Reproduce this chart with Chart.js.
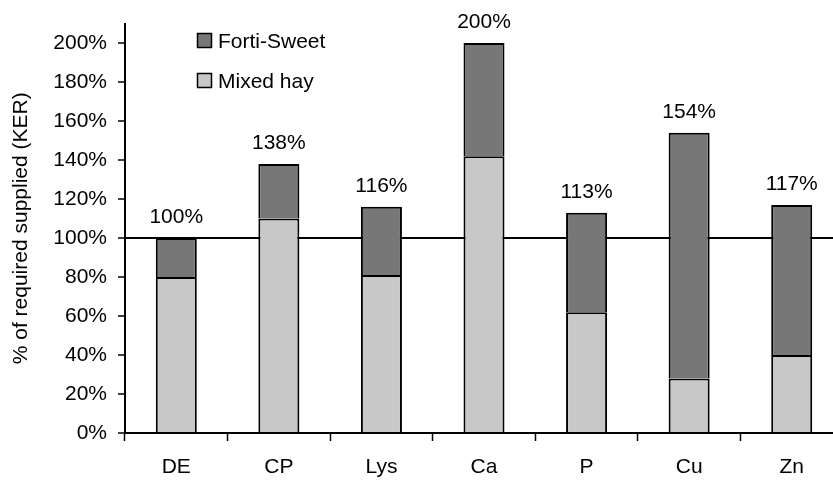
<!DOCTYPE html>
<html>
<head>
<meta charset="utf-8">
<script src="https://cdn.jsdelivr.net/npm/chart.js@4/dist/chart.umd.min.js"></script>
<style>
html,body{margin:0;padding:0;background:#fff;overflow:hidden;width:833px;height:480px;}
#wrap{width:843px;height:480px;}
</style>
</head>
<body>
<div id="wrap"><canvas id="c" width="843" height="480"></canvas></div>
<script>
const categories = ["DE", "CP", "Lys", "Ca", "P", "Cu", "Zn"];
const mixedHay = [80, 110, 81, 142, 62, 28, 40];
const fortiSweet = [20, 28, 35, 58, 51, 126, 77];
const yTicks = [0, 20, 40, 60, 80, 100, 120, 140, 160, 180, 200];

const FONT = '"Liberation Sans", Arial, sans-serif';
const DARK = '#777777';
const LIGHT = '#c8c8c8';

const totalsPlugin = {
  id: 'totals',
  afterDatasetsDraw(chart) {
    const ctx = chart.ctx;
    const y = chart.scales.y;
    const meta = chart.getDatasetMeta(1);
    ctx.save();
    ctx.font = '21px ' + FONT;
    ctx.fillStyle = '#000';
    ctx.textAlign = 'center';
    ctx.textBaseline = 'alphabetic';
    categories.forEach((c, i) => {
      const total = mixedHay[i] + fortiSweet[i];
      const x = meta.data[i].x;
      const py = y.getPixelForValue(total);
      ctx.fillText(total + '%', x, py - 15);
    });
    ctx.restore();
  }
};

const legendPlugin = {
  id: 'customLegend',
  afterDraw(chart) {
    const ctx = chart.ctx;
    const items = [chart.data.datasets[1], chart.data.datasets[0]];
    ctx.save();
    ctx.font = '21px ' + FONT;
    ctx.textBaseline = 'middle';
    ctx.textAlign = 'left';
    items.forEach((ds, k) => {
      const cy = 41 + k * 40;
      ctx.fillStyle = ds.backgroundColor;
      ctx.fillRect(197.5, cy - 7.5, 14, 14);
      ctx.strokeStyle = '#000';
      ctx.lineWidth = 1.5;
      ctx.strokeRect(197.5, cy - 7.5, 14, 14);
      ctx.fillStyle = '#000';
      ctx.fillText(ds.label, 218, cy + 1);
    });
    ctx.restore();
  }
};

new Chart(document.getElementById('c'), {
  type: 'bar',
  data: {
    labels: categories,
    datasets: [
      { label: 'Mixed hay', data: mixedHay, backgroundColor: LIGHT, borderColor: '#000', borderWidth: 2, borderSkipped: 'start' },
      { label: 'Forti-Sweet', data: fortiSweet, backgroundColor: DARK, borderColor: '#000', borderWidth: 2, borderSkipped: 'start' }
    ]
  },
  options: {
    responsive: false,
    animation: false,
    devicePixelRatio: 1,
    layout: { padding: { top: 22, left: 0, right: 0, bottom: 0 } },
    datasets: { bar: { barPercentage: 0.4, categoryPercentage: 1 } },
    plugins: { legend: { display: false }, tooltip: { enabled: false } },
    scales: {
      x: {
        stacked: true,
        offset: true,
        grid: { offset: true, color: 'transparent', tickColor: '#000', tickLength: 8, tickWidth: 1.5, drawOnChartArea: false },
        border: { color: '#000', width: 2 },
        ticks: { color: '#000', font: { family: FONT, size: 21 }, padding: 14, maxRotation: 0 },
        afterFit(s) { s.height = 47; }
      },
      y: {
        stacked: true,
        min: 0,
        max: 210,
        afterBuildTicks(s) { s.ticks = yTicks.map(v => ({ value: v })); },
        grid: {
          color: c => (c.tick && c.tick.value === 100) ? '#000' : 'transparent',
          lineWidth: 2,
          tickColor: '#000',
          tickLength: 7,
          tickWidth: 1.5
        },
        border: { color: '#000', width: 2 },
        ticks: { color: '#000', font: { family: FONT, size: 21 }, padding: 11, callback: v => v + '%' },
        title: { display: true, text: '% of required supplied (KER)', color: '#000', font: { family: FONT, size: 21 }, padding: { top: 9, bottom: 0 } },
        afterFit(s) { s.width = 125; }
      }
    }
  },
  plugins: [totalsPlugin, legendPlugin]
});
</script>
</body>
</html>
